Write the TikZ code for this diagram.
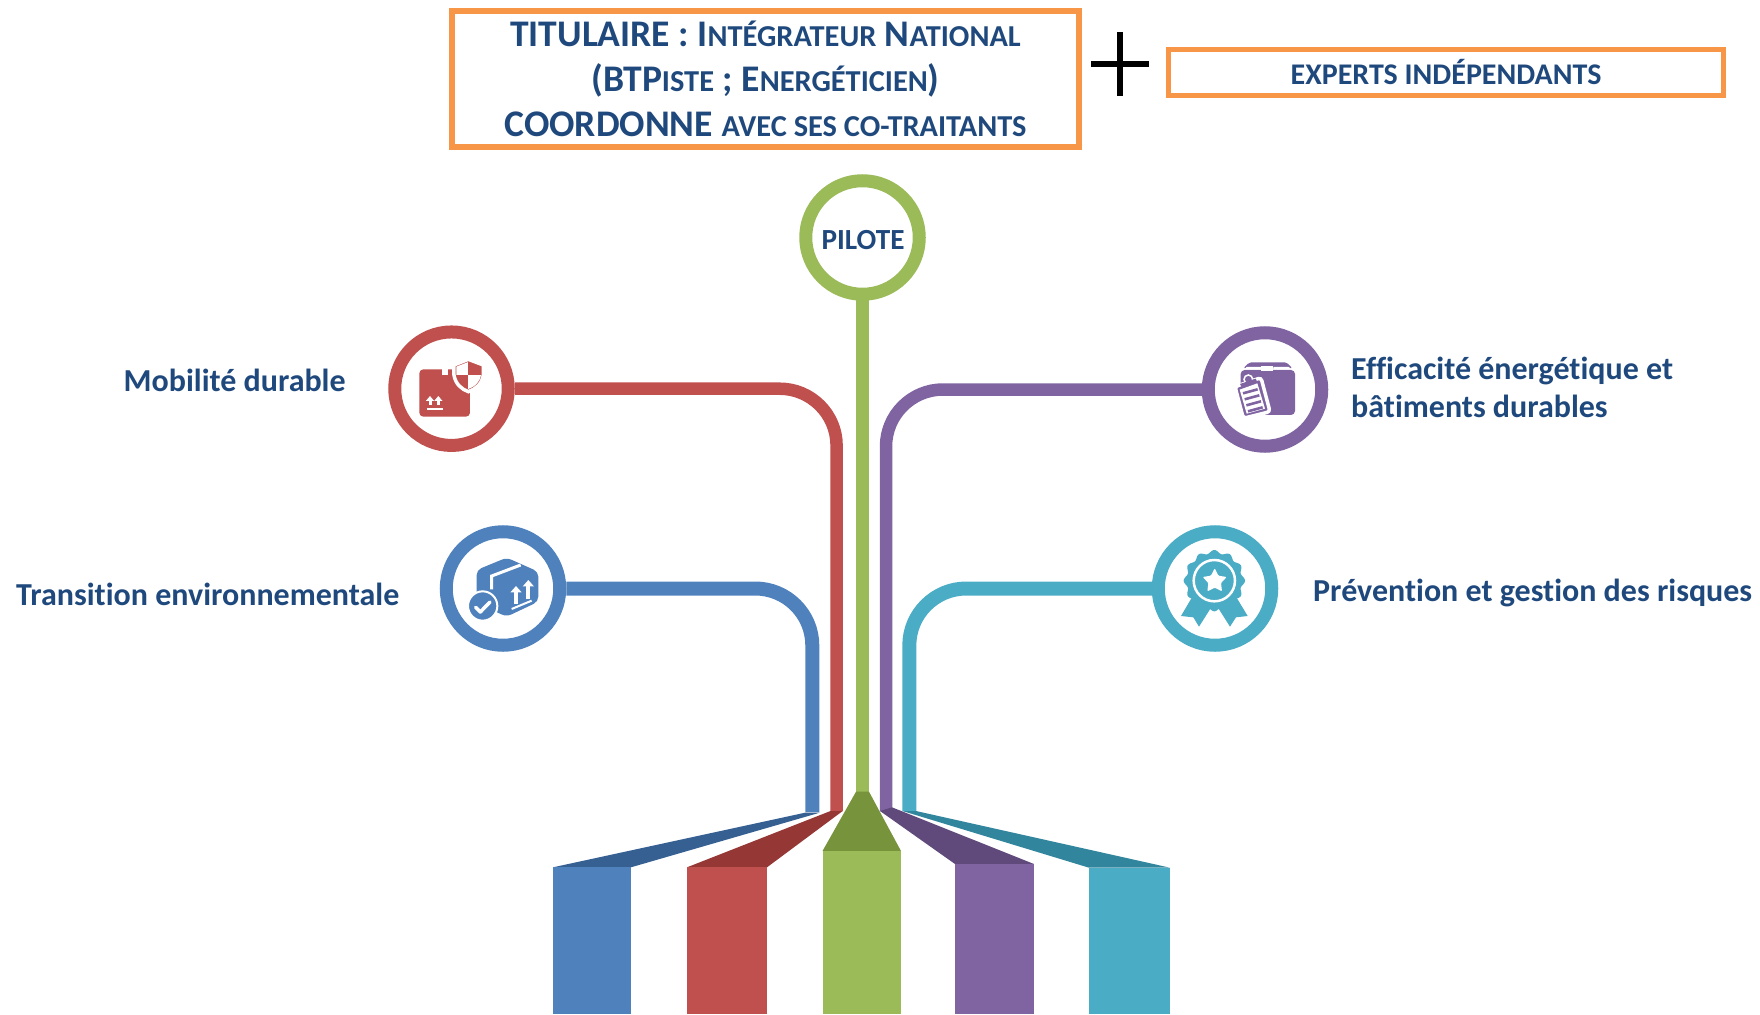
\documentclass[tikz,border=0pt]{standalone}
\usepackage{fontspec}
\setmainfont[Ligatures=NoCommon]{Carlito}
\usetikzlibrary{arrows.meta}
\definecolor{titleblue}{HTML}{1F497D}
\definecolor{boxorange}{HTML}{F79646}
\definecolor{armblue}{HTML}{4F81BD}
\definecolor{armred}{HTML}{C0504D}
\definecolor{armgreen}{HTML}{9BBB59}
\definecolor{armpurple}{HTML}{8064A2}
\definecolor{armteal}{HTML}{4BACC6}
\definecolor{darkblue}{HTML}{376092}
\definecolor{darkred}{HTML}{953735}
\definecolor{darkgreen}{HTML}{77933C}
\definecolor{darkpurple}{HTML}{604A7B}
\definecolor{darkteal}{HTML}{31859C}
\newcommand{\smcap}[1]{{\fontsize{30.4}{45}\selectfont #1}}
\begin{document}
\begin{tikzpicture}[x=1pt, y=-1pt,
    titlebox/.style ={draw=boxorange, line width=5.5, inner sep=0, text=titleblue, font=\fontsize{37.6}{45}\selectfont\bfseries},
    ring/.style ={circle, draw, fill=white, line width=13, inner sep=0, minimum size=113.5},
    arm/.style ={line width=#1, rounded corners=57},
    caption/.style ={text=titleblue, inner sep=0, align=left, font=\fontsize{32}{37.5}\selectfont\bfseries},
    tick/.style ={white, line width=3, -{Triangle[width=8,length=5]}},
    bigtick/.style ={white, line width=4, -{Triangle[width=11,length=6.5]}}]
   \useasboundingbox (0,0) rectangle (1760,1014);
   \node[titlebox, minimum width=627, minimum height=136, align=center] (titulaire) at (765.5,79)
      {TITULAIRE : I\smcap{NTÉGRATEUR} N\smcap{ATIONAL}\\(BTP\smcap{ISTE} ; E\smcap{NERGÉTICIEN})\\COORDONNE \smcap{AVEC SES CO-TRAITANTS}};
   \node[titlebox, minimum width=555, minimum height=46, font=\fontsize{30}{34}\selectfont\bfseries] (experts) at (1446,72.5) {EXPERTS INDÉPENDANTS};
   \node[minimum width=58, minimum height=63, inner sep=0] (plus) at (1120,64) {};
   \draw[line width=5.5] (plus.north) to (plus.south);
   \draw[line width=5.5] (plus.west) to (plus.east);

   \coordinate (bluefoot) at (812.3,812);
   \coordinate (redfoot) at (836.6,811);
   \coordinate (greenfoot) at (862.5,792);
   \coordinate (purplefoot) at (886,811);
   \coordinate (tealfoot) at (909.3,811);

   \draw[armgreen, line width=13] (862.5,237.5) coordinate (pilotecentre) to (greenfoot);
   \node[ring, draw=armgreen] (pilote) at (pilotecentre) {};
   \node[ring, draw=armred] (mobilite) at (451.5,388.7) {};
   \node[ring, draw=armblue] (transition) at (503,588.5) {};
   \node[ring, draw=armpurple] (efficacite) at (1265,389.5) {};
   \node[ring, draw=armteal] (prevention) at (1215,588.5) {};

   \draw[arm=12.5, draw=armred] (mobilite.east) -| (redfoot);
   \draw[arm=14, draw=armblue] (transition.east) -| (bluefoot);
   \draw[arm=12.5, draw=armpurple] (efficacite.west) -| (purplefoot);
   \draw[arm=14, draw=armteal] (prevention.west) -| (tealfoot);

   \fill[darkblue] (805,812.7) -- (819.6,812.7) -- (631,867.3) -- (553,867.3) -- cycle;
   \fill[armblue] (553,867.3) rectangle (631,1014);
   \fill[darkred] (830.5,811) -- (842.7,811) -- (767,867.3) -- (687,867.3) -- cycle;
   \fill[armred] (687,867.3) rectangle (767,1014);
   \fill[darkgreen] (856,791.7) -- (869,791.7) -- (901,851) -- (822.5,851) -- cycle;
   \fill[armgreen] (822.5,851) rectangle (901,1014);
   \fill[darkpurple] (880,811) -- (892,807.3) -- (1034,864) -- (955,864) -- cycle;
   \fill[armpurple] (955,864) rectangle (1034,1014);
   \fill[darkteal] (902.5,811) -- (916,811) -- (1170,867.7) -- (1089,867.7) -- cycle;
   \fill[armteal] (1089,867.7) rectangle (1170,1014);

   \node[text=titleblue, inner sep=0, font=\fontsize{29.2}{34}\selectfont\bfseries] (pilotetext) at (863,240) {PILOTE};
   \node[caption, anchor=west] (mobilitetext) at (123.5,380.5) {Mobilité durable};
   \node[caption, anchor=west] (transitiontext) at (16,594) {Transition environnementale};
   \node[caption, anchor=west] (efficacitetext) at (1351,387.5) {Efficacité énergétique et\\bâtiments durables};
   \node[caption, anchor=west] (preventiontext) at (1313,593) {Prévention et gestion des risques};

   \begin{scope}[shift={(380,310)}, x=0.3333pt, y=-0.3333pt]
      \fill[armred, rounded corners=4] (118,178) rectangle (270,320);
      \fill[white] (187,176) rectangle (205,195);
      \path[draw=white, line width=3.5, fill=armred] (265,148) -- (222,165) -- (222,195) .. controls (226,222) and (245,238) .. (265,245) .. controls (287,238) and (306,222) .. (310,195) -- (310,165) -- cycle;
      \begin{scope}
         \clip (265,156) -- (229,170) -- (229,195) .. controls (233,217) and (248,231) .. (265,237) .. controls (284,231) and (299,217) .. (303,195) -- (303,170) -- cycle;
         \fill[white] (222,148) rectangle (265,195);
         \fill[white] (265,195) rectangle (310,245);
      \end{scope}
      \draw[tick] (150,285) -- (150,258);
      \draw[tick] (175,285) -- (175,258);
      \draw[white, line width=2] (142,297) -- (190,297);
   \end{scope}

   \begin{scope}[shift={(430,510)}, x=0.3333pt, y=-0.3333pt]
      \fill[armblue, rounded corners=5] (140,180) -- (230,143) -- (325,185) -- (325,275) -- (230,320) -- (140,280) -- cycle;
      \draw[white, line width=3] (272,165) -- (185,198) -- (185,238);
      \draw[bigtick] (258,282) -- (258,228);
      \draw[bigtick] (295,268) -- (295,210);
      \draw[white, line width=2] (245,297) -- (305,272);
      \path[draw=white, line width=2, fill=armblue] (158,288) circle (44);
      \draw[white, line width=3.5, line cap=round, line join=round] (137,292) -- (151,306) -- (180,276);
   \end{scope}

   \begin{scope}[shift={(1190,310)}, x=0.3333pt, y=-0.3333pt]
      \fill[armpurple, rounded corners=4] (152,180) rectangle (315,315);
      \fill[armpurple, rounded corners=2] (178,157) -- (290,157) -- (307,175) -- (160,175) -- cycle;
      \fill[white] (213,168) rectangle (250,182);
      \fill[white] (170,171) -- (213,171) -- (213,178) -- (162,178) -- cycle;
      \fill[white] (250,171) -- (296,171) -- (305,178) -- (250,178) -- cycle;
      \path[draw=white, line width=3.5, fill=armpurple, rounded corners=3] (135,230) -- (213,203) -- (240,305) -- (160,325) -- cycle;
      \fill[white] (149,239) -- (202,220) -- (225,296) -- (170,311) -- cycle;
      \path[draw=white, line width=1.5, fill=armpurple] (175,208) circle (13);
      \fill[armpurple] (150,222) -- (197,206) -- (202,216) -- (155,232) -- cycle;
      \foreach \ln in {0,1,2,3}
         \draw[armpurple, line width=2.6] (159+5*\ln,250+18*\ln) -- (203+5*\ln,238+18*\ln);
   \end{scope}

   \begin{scope}[shift={(1140,510)}, x=0.3333pt, y=-0.3333pt]
      \fill[armteal] (160,255) -- (123,318) -- (160,322) -- (177,350) -- (215,290) -- cycle;
      \fill[armteal] (285,255) -- (323,318) -- (288,322) -- (270,350) -- (232,290) -- cycle;
      \fill[armteal] plot[domain=0:360, samples=145, smooth] ({223+(87+5*cos(12*\x))*cos(\x)}, {212+(87+5*cos(12*\x))*sin(\x)});
      \path[draw=white, line width=2.5, fill=armteal] (223,212) circle (62);
      \fill[white, rounded corners=1] (224,175) -- (235,197) -- (260,201) -- (243,219) -- (246,244) -- (224,233) -- (202,244) -- (205,219) -- (188,201) -- (213,197) -- cycle;
   \end{scope}
\end{tikzpicture}
\end{document}
